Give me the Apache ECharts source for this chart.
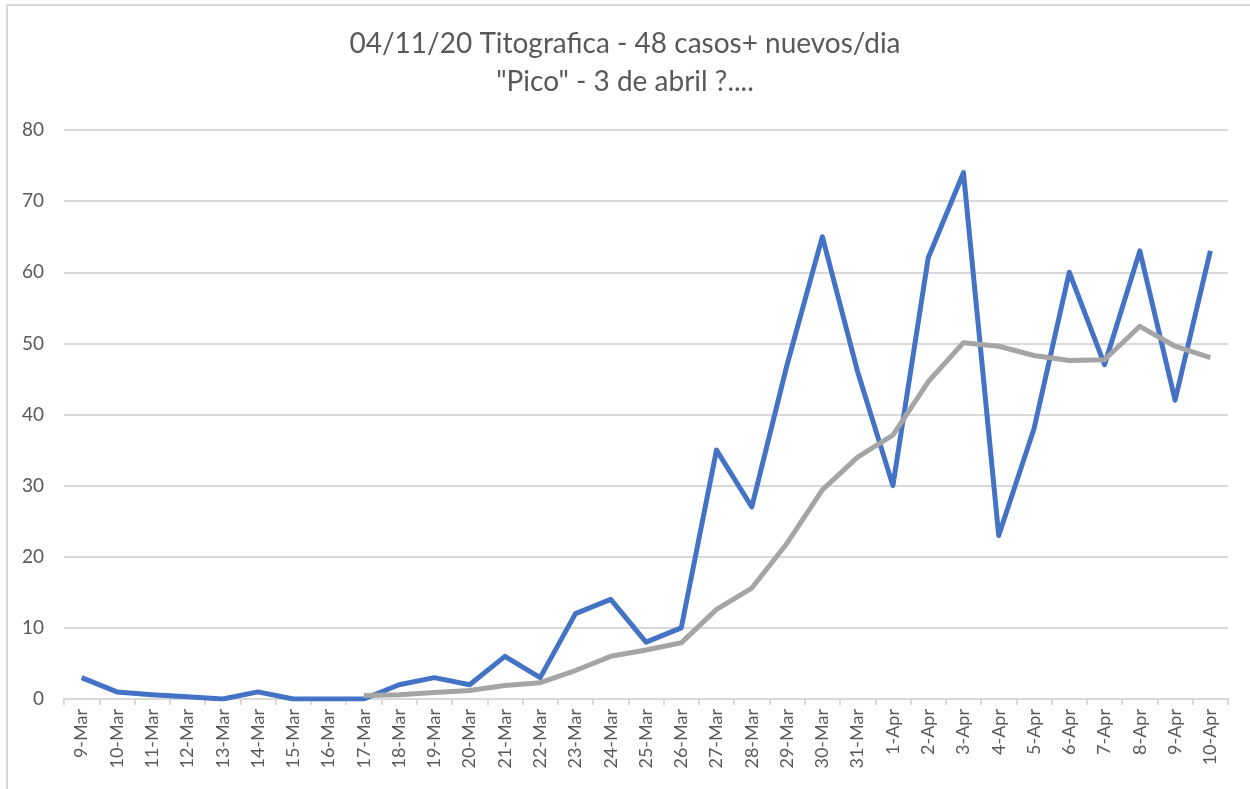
<!DOCTYPE html>
<html>
<head>
<meta charset="utf-8">
<script src="https://cdn.jsdelivr.net/npm/echarts@6/dist/echarts.min.js"></script>
<style>
    html, body {margin: 0; padding: 0; background: #fff;}
    #main {width: 1250px; height: 789px;}
</style>
</head>
<body>
<div id="main"></div>
<script>
// categorias (dias)
var dias = ['9-Mar', '10-Mar', '11-Mar', '12-Mar', '13-Mar', '14-Mar', '15-Mar', '16-Mar', '17-Mar',
    '18-Mar', '19-Mar', '20-Mar', '21-Mar', '22-Mar', '23-Mar', '24-Mar', '25-Mar', '26-Mar',
    '27-Mar', '28-Mar', '29-Mar', '30-Mar', '31-Mar', '1-Apr', '2-Apr', '3-Apr', '4-Apr',
    '5-Apr', '6-Apr', '7-Apr', '8-Apr', '9-Apr', '10-Apr'];
// casos nuevos por dia (azul)
var casosNuevos = [3, 1, 0.6, 0.3, 0, 1, 0, 0, 0,
    2, 3, 2, 6, 3, 12, 14, 8, 10,
    35, 27, 47, 65, 46, 30, 62, 74, 23,
    38, 60, 47, 63, 42, 63];
// promedio (gris), empieza el 17-Mar
var promedio = [null, null, null, null, null, null, null, null, 0.5,
    0.6, 0.9, 1.2, 1.9, 2.3, 4.0, 6.0, 6.9, 7.9,
    12.6, 15.6, 21.9, 29.4, 34.0, 37.1, 44.6, 50.1, 49.6,
    48.3, 47.6, 47.7, 52.4, 49.6, 48.0];
// ticks eje y
var yMin = 0, yMax = 80, yPaso = 10;

var textColor = '#595959';
var gridColor = '#d9d9d9';

var myChart = echarts.init(document.getElementById('main'));
var option = {
    backgroundColor: '#fff',
    animation: false,
    textStyle: {fontFamily: 'Lato, sans-serif'},
    title: {
        text: '04/11/20 Titografica - 48 casos+ nuevos/dia\n"Pico" - 3 de abril ?....',
        left: 'center',
        top: 20,
        textStyle: {
            fontFamily: 'Lato, sans-serif',
            fontWeight: 'normal',
            fontSize: 28,
            lineHeight: 38,
            color: textColor
        }
    },
    // marco del grafico (solo arriba e izquierda visibles)
    graphic: [{
        type: 'rect',
        shape: {x: 7, y: 5, width: 1400, height: 900},
        style: {fill: 'none', stroke: gridColor, lineWidth: 2},
        silent: true
    }],
    grid: {left: 64, right: 22, top: 130, bottom: 90},
    xAxis: {
        type: 'category',
        data: dias,
        boundaryGap: true,
        axisLine: {lineStyle: {color: gridColor, width: 2}},
        axisTick: {show: true, length: 6, lineStyle: {color: gridColor, width: 2}},
        axisLabel: {
            rotate: 90,
            interval: 0,
            margin: 10,
            fontFamily: 'Lato, sans-serif',
            fontSize: 18,
            color: textColor
        },
        splitLine: {show: false}
    },
    yAxis: {
        type: 'value',
        min: yMin,
        max: yMax,
        interval: yPaso,
        axisLine: {show: false},
        axisTick: {show: false},
        axisLabel: {
            margin: 20,
            fontFamily: 'Lato, sans-serif',
            fontSize: 19,
            color: textColor
        },
        splitLine: {lineStyle: {color: gridColor, width: 2}}
    },
    series: [
        {
            name: 'casos nuevos',
            type: 'line',
            data: casosNuevos,
            symbol: 'none',
            lineStyle: {color: '#4472c4', width: 5, join: 'round'},
            itemStyle: {color: '#4472c4'},
            z: 2
        },
        {
            name: 'promedio',
            type: 'line',
            data: promedio,
            symbol: 'none',
            connectNulls: false,
            lineStyle: {color: '#a5a5a5', width: 5, join: 'round'},
            itemStyle: {color: '#a5a5a5'},
            z: 3
        }
    ]
};
myChart.setOption(option);
window.onresize = function () {
    myChart.resize();
};
</script>
</body>
</html>
